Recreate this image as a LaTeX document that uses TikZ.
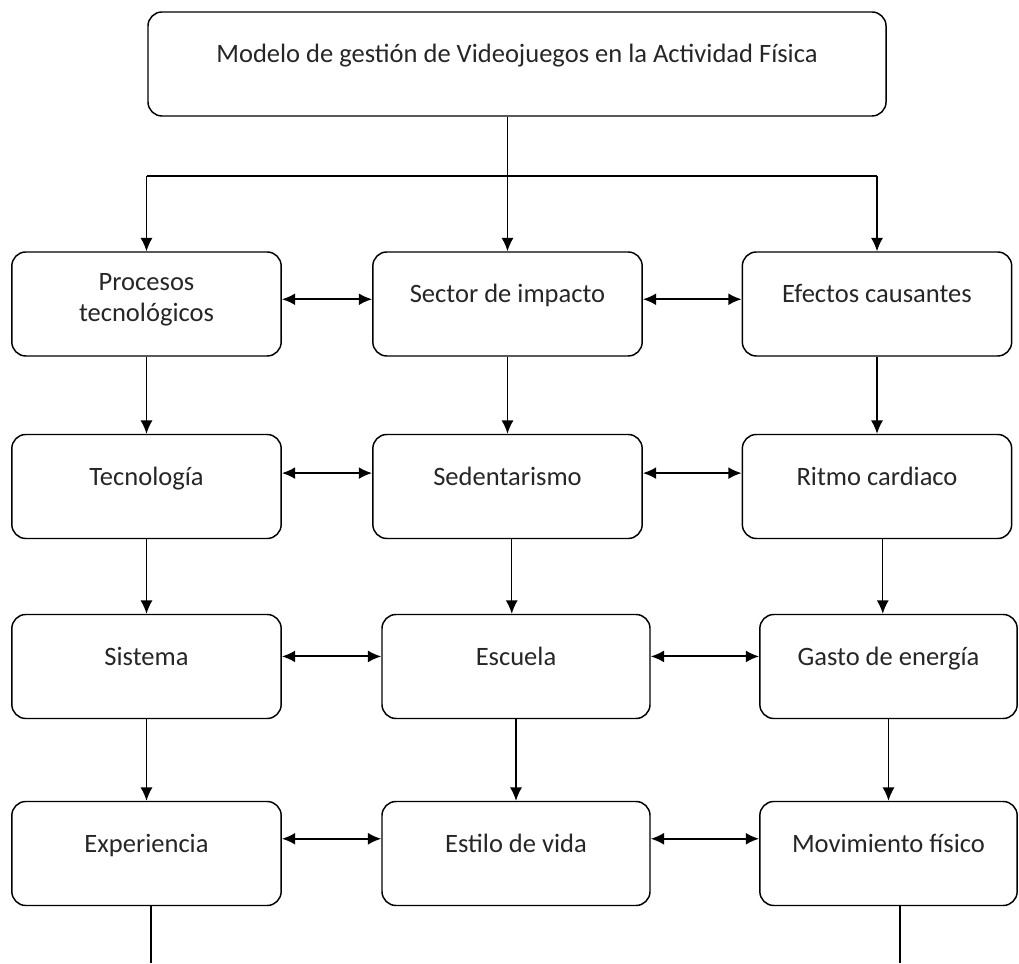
\documentclass[tikz,border=0pt]{standalone}
\usepackage{fontspec}
\setmainfont{Carlito}
\usetikzlibrary{arrows.meta, calc}

\begin{document}
\begin{tikzpicture}[x=0.75pt, y=0.75pt,
			>={Latex[length=10pt,width=9pt]},   %Pfeilspitzen
			box/.style={draw, line width=1.1pt, rounded corners=10.5pt, inner sep=0pt, align=center,
				minimum width=#1, minimum height=78pt, text height=38.25pt, text depth=39.75pt},
			box/.default=202pt,
			link/.style={->, line width=1pt},
			both/.style={<->, line width=1.4pt},
			font=\fontsize{19.9}{23.8}\selectfont, text=black!85]
			\useasboundingbox (0,0) rectangle (1019,963);
			% Kopf
			\node[box=553.5pt] (modelo) at (517,899) {Modelo de gestión de Videojuegos en la Actividad Física};
			% Zeile 1
			\node[box, text height=52.5pt, text depth=25.5pt] (procesos) at (146.5,659) {Procesos\\tecnológicos};
			\node[box] (sector) at (507.5,659) {Sector de impacto};
			\node[box] (efectos) at (877,659) {Efectos causantes};
			% Zeile 2
			\node[box] (tecnologia) at (146.5,476.5) {Tecnología};
			\node[box] (sedentarismo) at (507.5,476.5) {Sedentarismo};
			\node[box] (ritmo) at (877,476.5) {Ritmo cardiaco};
			% Zeile 3
			\node[box] (sistema) at (146.5,296.5) {Sistema};
			\node[box=201pt] (escuela) at (516,296.5) {Escuela};
			\node[box=193pt] (gasto) at (888.5,296.5) {Gasto de energía};
			% Zeile 4
			\node[box] (experiencia) at (146.5,109.5) {Experiencia};
			\node[box=201pt] (estilo) at (516,109.5) {Estilo de vida};
			\node[box=193pt] (movimiento) at (888.5,109.5) {Movimiento físico};
			% Verzweigung
			\coordinate (fork) at (507.5,787);
			\draw[link] (modelo.south -| sector.north) -- (sector.north);
			\draw[line width=1pt] (procesos.north |- fork) -- (efectos.north |- fork);
			\draw[link] (procesos.north |- fork) -- (procesos.north);
			\draw[link] (efectos.north |- fork) -- (efectos.north);
			% Pfeile nach unten
			\foreach \a/\b in {procesos/tecnologia, sector/sedentarismo, efectos/ritmo,
				tecnologia/sistema, sedentarismo/escuela, ritmo/gasto,
				sistema/experiencia, escuela/estilo, gasto/movimiento}{
				\coordinate (mitte) at ($(\a.south)!.5!(\b.north)$);
				\draw[link] (mitte |- \a.south) -- (mitte |- \b.north);
			}
			% Doppelpfeile (Abstand von oben)
			\foreach \a/\b/\d in {procesos/sector/36pt, sector/efectos/36pt,
				tecnologia/sedentarismo/29.5pt, sedentarismo/ritmo/29.5pt,
				sistema/escuela/32pt, escuela/gasto/32pt,
				experiencia/estilo/28.5pt, estilo/movimiento/28.5pt}
				\draw[both] ([yshift=-\d]\a.north east) -- ([yshift=-\d]\a.north east -| \b.west);
			% offene Enden
			\coordinate (finI) at (151,0);
			\coordinate (finD) at (900,0);
			\draw[line width=1pt] (finI |- experiencia.south) -- (finI);
			\draw[line width=1pt] (finD |- movimiento.south) -- (finD);
		\end{tikzpicture}
\end{document}
